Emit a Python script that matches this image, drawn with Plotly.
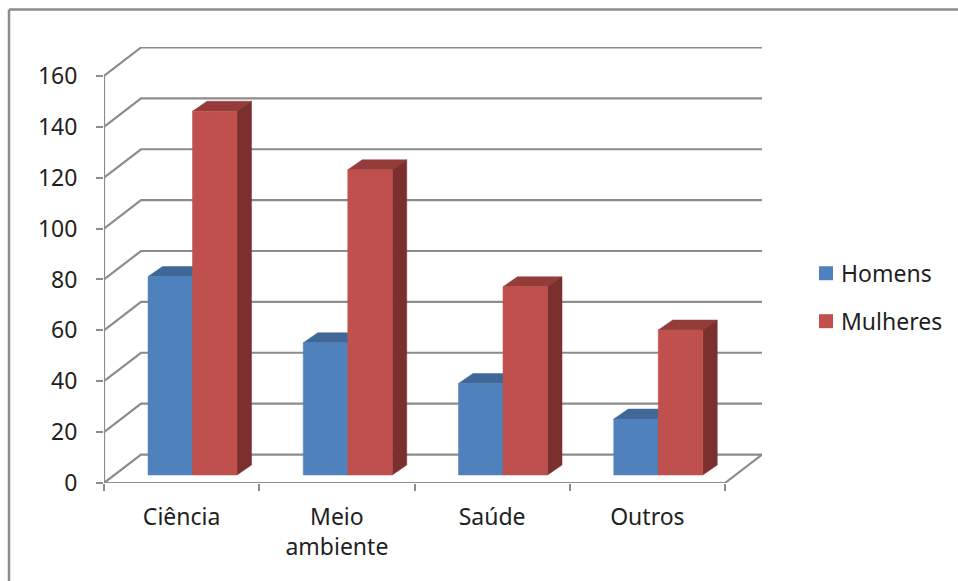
import plotly.graph_objects as go

categories = ["Ciência", "Meio<br>ambiente", "Saúde", "Outros"]
series_names = ["Homens", "Mulheres"]
homens = [78, 52, 36, 22]
mulheres = [143, 120, 74, 57]
y_ticks = [0, 20, 40, 60, 80, 100, 120, 140, 160]

W, H = 958, 581
L, R, T, B = 104, 762, 46.5, 483
CAT_PX = (725 - 104) / 4
VAL_PX = (483 - 75.5) / 160
DX = 37 / CAT_PX
DY = 28.5 / VAL_PX
BAR_W = 44.5 / CAT_PX
GROUP_START = 44 / CAT_PX
BASE = 8 / VAL_PX
DEPTH_X = 14.5 / CAT_PX
DEPTH_Y = 10 / VAL_PX
GRID = "#8c8c8c"
FONT = "Noto Sans"
TEXT = "#1f1f1f"
COLORS = ["#4f81bd", "#c0504d"]


def px(x):
    return (x - L) / (R - L)


def py(y):
    return (B - y) / (B - T)


fig = go.Figure()


def line(xs, ys, width=2.2, color=GRID):
    fig.add_trace(go.Scatter(x=xs, y=ys, mode="lines", cliponaxis=False, showlegend=False,
                             hoverinfo="skip", line=dict(color=color, width=width)))


def face(xs, ys, color):
    fig.add_trace(go.Scatter(x=xs + xs[:1], y=ys + ys[:1], mode="lines", fill="toself",
                             fillcolor=color, cliponaxis=False, showlegend=False,
                             hoverinfo="skip", line=dict(color=color, width=0.5)))


# walls and floor
for v in y_ticks[1:]:
    line([0, DX, 4 + DX], [v, v + DY, v + DY])
line([0, DX, 4 + DX, 4, 0], [0, DY, DY, 0, 0])
line([0, 0], [0, 160])

# columns
series = [
    (homens, 0, COLORS[0], "#3f6797", "#2f4f75"),
    (mulheres, 1, COLORS[1], "#933c3a", "#7b2f2e"),
]
for cat in range(len(categories)):
    for values, slot, front, top, side in series:
        v = values[cat]
        x0 = cat + GROUP_START + slot * BAR_W
        x1 = x0 + BAR_W
        y0, y1 = BASE, BASE + v
        face([x0, x0 + DEPTH_X, x1 + DEPTH_X, x1], [y1, y1 + DEPTH_Y, y1 + DEPTH_Y, y1], top)
        face([x1, x1 + DEPTH_X, x1 + DEPTH_X, x1], [y0, y0 + DEPTH_Y, y1 + DEPTH_Y, y1], side)
        face([x0, x1, x1, x0], [y0, y0, y1, y1], front)

# outer frame (runs off the right and bottom edges)
shapes = [
    dict(type="line", xref="paper", yref="paper", x0=px(9), x1=px(W + 5), y0=py(9), y1=py(9),
         line=dict(color=GRID, width=2.5)),
    dict(type="line", xref="paper", yref="paper", x0=px(9), x1=px(9), y0=py(H + 5), y1=py(9),
         line=dict(color=GRID, width=2.5)),
]

# legend
annotations = []
for name, color, yc in zip(series_names, COLORS, [273, 321]):
    shapes.append(dict(type="rect", xref="paper", yref="paper", x0=px(819), x1=px(833),
                       y0=py(yc + 7), y1=py(yc - 7), fillcolor=color, line=dict(width=0)))
    annotations.append(dict(text=name, xref="paper", yref="paper", x=px(839), y=py(yc),
                            xanchor="left", yanchor="middle", showarrow=False,
                            font=dict(family=FONT, size=23, color=TEXT)))

fig.update_layout(
    width=W, height=H, autosize=False,
    margin=dict(l=L, r=W - R, t=T, b=H - B, pad=0),
    paper_bgcolor="white", plot_bgcolor="white",
    shapes=shapes,
    annotations=annotations,
    showlegend=False,
    font=dict(family=FONT, size=23, color=TEXT),
    xaxis=dict(range=[0, 4 + DX], tickmode="array", tickvals=[0.5, 1.5, 2.5, 3.5], ticktext=categories,
               ticks="", showgrid=False, zeroline=False, showline=False, ticklabelstandoff=18,
               tickfont=dict(family=FONT, size=23, color=TEXT), fixedrange=True,
               minor=dict(tickmode="array", tickvals=[0, 1, 2, 3, 4], ticks="outside", ticklen=7,
                          tickwidth=2.2, tickcolor=GRID, showgrid=False)),
    yaxis=dict(range=[0, (B - T) / VAL_PX], tickmode="array", tickvals=y_ticks,
               ticks="outside", ticklen=7, tickwidth=2.2, tickcolor=GRID,
               showgrid=False, zeroline=False, showline=False, ticklabelstandoff=14,
               tickfont=dict(family=FONT, size=23, color=TEXT), fixedrange=True),
)

fig.write_html("out.html", post_script="document.body.style.margin='0';document.body.style.overflow='hidden';",
               config={"displayModeBar": False})
